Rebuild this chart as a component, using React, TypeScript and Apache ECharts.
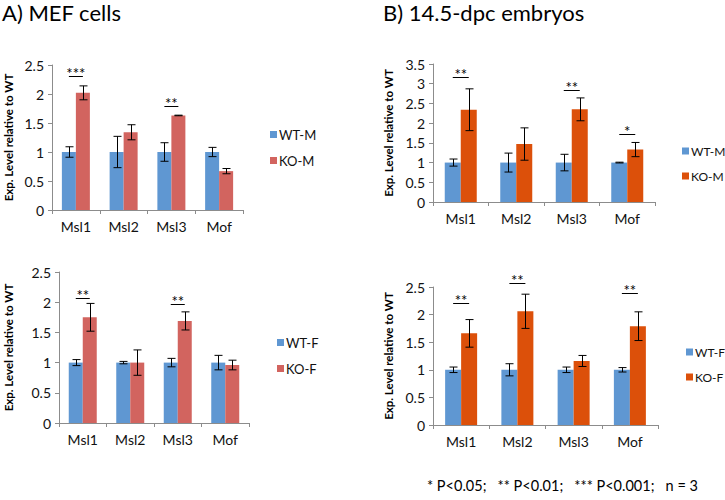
import React, { useEffect, useRef } from "react";
import * as echarts from "echarts";

const categories = ["Msl1", "Msl2", "Msl3", "Mof"];

// A) MEF cells - male
const mefMaleWT = [1, 1, 1, 1];
const mefMaleWTErr = [0.09, 0.27, 0.16, 0.08];
const mefMaleKO = [2.02, 1.34, 1.63, 0.67];
const mefMaleKOErr = [0.12, 0.13, 0.005, 0.045];
const mefMaleSig = [[0, 2.31, 3], [2, 1.79, 2]];

// A) MEF cells - female
const mefFemaleWT = [1, 1, 1, 1];
const mefFemaleWTErr = [0.05, 0.02, 0.07, 0.12];
const mefFemaleKO = [1.75, 1.0, 1.69, 0.96];
const mefFemaleKOErr = [0.23, 0.21, 0.15, 0.08];
const mefFemaleSig = [[0, 2.07, 2], [2, 1.97, 2]];

// B) 14.5-dpc embryos - male
const embMaleWT = [1, 1, 1, 1];
const embMaleWTErr = [0.09, 0.24, 0.21, 0.01];
const embMaleKO = [2.34, 1.47, 2.35, 1.33];
const embMaleKOErr = [0.53, 0.41, 0.29, 0.18];
const embMaleSig = [[0, 3.18, 2], [2, 2.84, 2], [3, 1.72, 1]];

// B) 14.5-dpc embryos - female
const embFemaleWT = [1, 1, 1, 1];
const embFemaleWTErr = [0.05, 0.11, 0.05, 0.04];
const embFemaleKO = [1.66, 2.06, 1.16, 1.79];
const embFemaleKOErr = [0.25, 0.31, 0.1, 0.26];
const embFemaleSig = [[0, 2.21, 2], [1, 2.58, 2], [3, 2.4, 2]];

const BLUE = "#5F97D2";
const RED = "#D2645F";
const ORANGE = "#DC500A";
const FONT = "Lato, 'Open Sans', sans-serif";
const AXIS_COLOR = "#8C8C8C";

function errRender(sign: number, barW: number) {
  return (params: any, api: any) => {
    const idx = api.value(0);
    const v = api.value(1);
    const e = api.value(2);
    const c = api.coord([idx, v]);
    const x = Math.round(c[0] + (sign * barW) / 2) + 0.5;
    const yt = api.coord([idx, v + e])[1];
    const yb = api.coord([idx, v - e])[1];
    const cap = 4;
    const style = { stroke: "#000", lineWidth: 1 };
    return {
      type: "group",
      children: [
        { type: "line", shape: { x1: x, y1: yt, x2: x, y2: yb }, style },
        { type: "line", shape: { x1: x - cap, y1: yt, x2: x + cap, y2: yt }, style },
        { type: "line", shape: { x1: x - cap, y1: yb, x2: x + cap, y2: yb }, style },
      ],
    };
  };
}

function sigRender(barW: number) {
  return (params: any, api: any) => {
    const idx = api.value(0);
    const v = api.value(1);
    const n = api.value(2);
    const c = api.coord([idx, v]);
    const x1 = c[0] - barW / 2;
    const x2 = c[0] + barW / 2;
    const y = Math.round(c[1]) + 0.5;
    return {
      type: "group",
      children: [
        { type: "line", shape: { x1, y1: y, x2, y2: y }, style: { stroke: "#000", lineWidth: 1 } },
        {
          type: "text",
          style: {
            text: "*".repeat(n),
            x: (x1 + x2) / 2,
            y: y + 4,
            align: "center",
            verticalAlign: "bottom",
            fontSize: 15,
            fontFamily: FONT,
            fill: "#000",
          },
        },
      ],
    };
  };
}

const panels = [
  { grid: { left: 52, width: 191, top: 65, height: 145 }, max: 2.5, nameGap: 38, barW: 14,
    wt: mefMaleWT, wtErr: mefMaleWTErr, ko: mefMaleKO, koErr: mefMaleKOErr, sig: mefMaleSig,
    wtName: "WT-M", koName: "KO-M", koColor: RED, legend: { left: 270, top: 128 }, legendFont: 13 },
  { grid: { left: 59, width: 190, top: 272, height: 151 }, max: 2.5, nameGap: 45, barW: 14,
    wt: mefFemaleWT, wtErr: mefFemaleWTErr, ko: mefFemaleKO, koErr: mefFemaleKOErr, sig: mefFemaleSig,
    wtName: "WT-F", koName: "KO-F", koColor: RED, legend: { left: 277, top: 336 }, legendFont: 13 },
  { grid: { left: 433, width: 222, top: 64, height: 138 }, max: 3.5, nameGap: 39, barW: 16,
    wt: embMaleWT, wtErr: embMaleWTErr, ko: embMaleKO, koErr: embMaleKOErr, sig: embMaleSig,
    wtName: "WT-M", koName: "KO-M", koColor: ORANGE, legend: { left: 682, top: 145 }, legendFont: 12 },
  { grid: { left: 433, width: 225, top: 287, height: 138 }, max: 2.5, nameGap: 39, barW: 16,
    wt: embFemaleWT, wtErr: embFemaleWTErr, ko: embFemaleKO, koErr: embFemaleKOErr, sig: embFemaleSig,
    wtName: "WT-F", koName: "KO-F", koColor: ORANGE, legend: { left: 686, top: 346 }, legendFont: 12 },
];

export default function App() {
  const ref = useRef<HTMLDivElement>(null);
  useEffect(() => {
    if (!ref.current) return;
    const chart = echarts.init(ref.current, undefined, { renderer: "svg" });
    const grid: any[] = [];
    const xAxis: any[] = [];
    const yAxis: any[] = [];
    const series: any[] = [];
    const legend: any[] = [];
    panels.forEach((p, i) => {
      grid.push({ ...p.grid });
      xAxis.push({
        type: "category",
        gridIndex: i,
        data: categories,
        axisLine: { lineStyle: { color: AXIS_COLOR } },
        axisTick: { show: true, length: 4, lineStyle: { color: AXIS_COLOR } },
        axisLabel: { color: "#111", fontSize: 14, fontFamily: FONT, margin: 9 },
      });
      yAxis.push({
        type: "value",
        gridIndex: i,
        min: 0,
        max: p.max,
        interval: 0.5,
        name: "Exp. Level relative to WT",
        nameLocation: "middle",
        nameRotate: 90,
        nameGap: p.nameGap,
        nameTextStyle: { fontSize: 11.5, fontWeight: "bold", fontFamily: FONT, color: "#000" },
        axisLine: { show: true, lineStyle: { color: AXIS_COLOR } },
        axisTick: { show: true, length: 4, lineStyle: { color: AXIS_COLOR } },
        splitLine: { show: false },
        axisLabel: { color: "#111", fontSize: 14, fontFamily: FONT, margin: 8 },
      });
      series.push({
        type: "bar", name: p.wtName, xAxisIndex: i, yAxisIndex: i, data: p.wt,
        barWidth: p.barW, barGap: "0%", itemStyle: { color: BLUE },
      });
      series.push({
        type: "bar", name: p.koName, xAxisIndex: i, yAxisIndex: i, data: p.ko,
        barWidth: p.barW, barGap: "0%", itemStyle: { color: p.koColor },
      });
      series.push({
        type: "custom", xAxisIndex: i, yAxisIndex: i, clip: false, z: 5,
        encode: { x: 0, y: 1 },
        data: p.wt.map((v, k) => [k, v, p.wtErr[k]]),
        renderItem: errRender(-1, p.barW),
      });
      series.push({
        type: "custom", xAxisIndex: i, yAxisIndex: i, clip: false, z: 5,
        encode: { x: 0, y: 1 },
        data: p.ko.map((v, k) => [k, v, p.koErr[k]]),
        renderItem: errRender(1, p.barW),
      });
      series.push({
        type: "custom", xAxisIndex: i, yAxisIndex: i, clip: false, z: 5,
        encode: { x: 0, y: 1 },
        data: p.sig,
        renderItem: sigRender(p.barW),
      });
      legend.push({
        orient: "vertical",
        left: p.legend.left,
        top: p.legend.top,
        padding: 0,
        icon: "rect",
        itemWidth: 7,
        itemHeight: 7,
        itemGap: 13,
        selectedMode: false,
        textStyle: { fontSize: p.legendFont, fontFamily: FONT, color: "#111", padding: [0, 0, 0, -3] },
        data: [
          { name: p.wtName, itemStyle: { color: BLUE } },
          { name: p.koName, itemStyle: { color: p.koColor } },
        ],
      });
    });
    chart.setOption({
      animation: false,
      backgroundColor: "#fff",
      grid,
      xAxis,
      yAxis,
      series,
      legend,
      graphic: [
        { type: "text", left: 2, top: 1, style: { text: "A) MEF cells", fontSize: 22, fontFamily: FONT, fill: "#000" } },
        { type: "text", left: 383, top: 1, style: { text: "B) 14.5-dpc embryos", fontSize: 22, fontFamily: FONT, fill: "#000" } },
        { type: "text", left: 427, top: 478, style: { text: "* P<0.05;   ** P<0.01;   *** P<0.001;   n = 3", fontSize: 14.5, fontFamily: FONT, fill: "#000" } },
      ],
    });
    return () => chart.dispose();
  }, []);
  return <div ref={ref} style={{ width: 725, height: 500, position: "absolute", left: 0, top: 0 }} />;
}
